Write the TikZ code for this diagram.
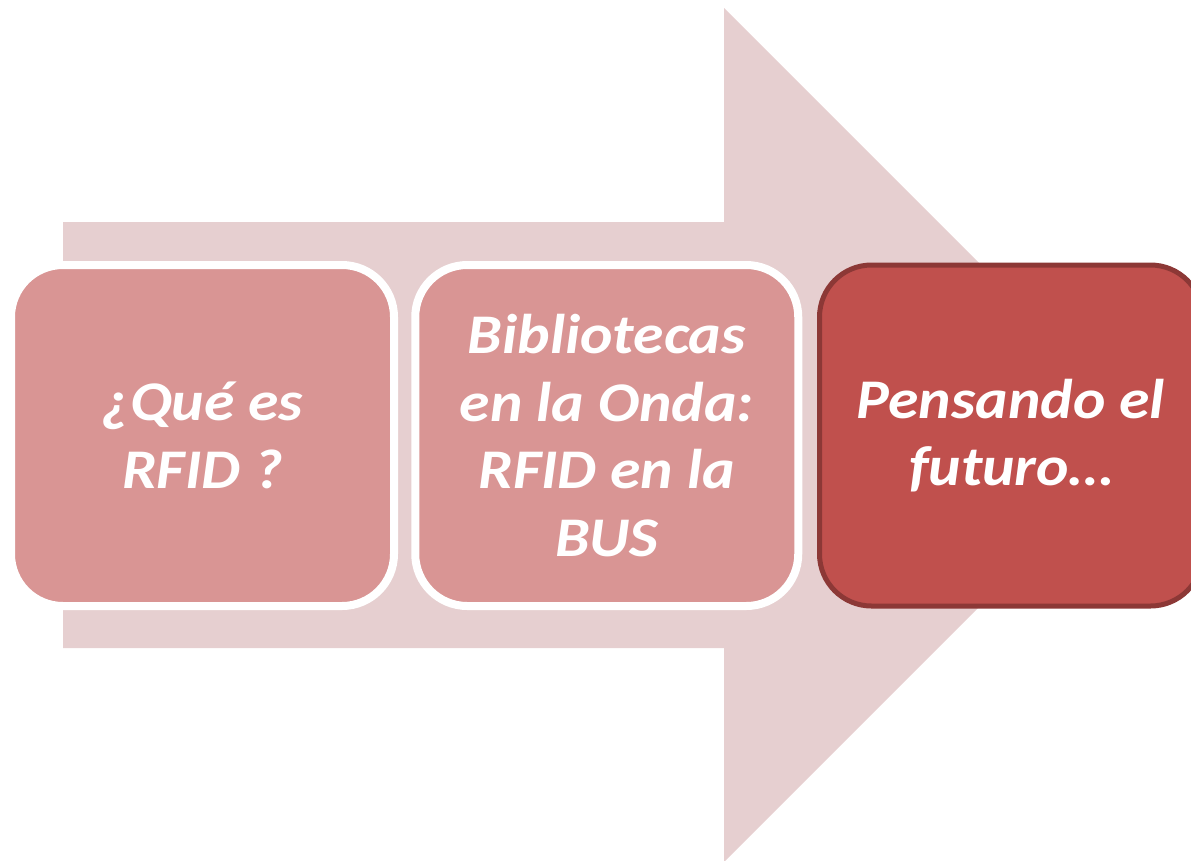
\documentclass[tikz,border=0pt]{standalone}
\usepackage{fontspec}
\setmainfont{Carlito}[FakeStretch=1.1]
\definecolor{arrowpink}{HTML}{E6CFD0}
\definecolor{boxpink}{HTML}{D99594}
\definecolor{boxred}{HTML}{C0504D}
\definecolor{boxredline}{HTML}{8C3836}
\begin{document}
\begin{tikzpicture}[x=1pt,y=-1pt,
  stepbox/.style={rounded corners=52pt, minimum width=383pt, minimum height=341pt,
    align=center, text=white, inner sep=0pt,
    font=\fontsize{56}{67.5}\selectfont\bfseries\itshape},
  lightbox/.style={stepbox, fill=boxpink, draw=white, line width=8pt},
  darkbox/.style={stepbox, fill=boxred, draw=boxredline, line width=5pt}]
\useasboundingbox (0,0) rectangle (1191,860);
\clip (0,0) rectangle (1191,860);
\fill[arrowpink] (63,222) -- (724,222) -- (724,8) -- (1151,435) -- (724,862) -- (724,648) -- (63,648) -- cycle;
\node[lightbox] (q) at (202.5,435.5) {¿Qué es\\RFID ?};
\node[lightbox] (b) at (606.75,435.5) {Bibliotecas\\en la Onda:\\RFID en la\\BUS};
\node[darkbox] (p) at (1011,435.5) {Pensando el\\futuro…};
\end{tikzpicture}
\end{document}
